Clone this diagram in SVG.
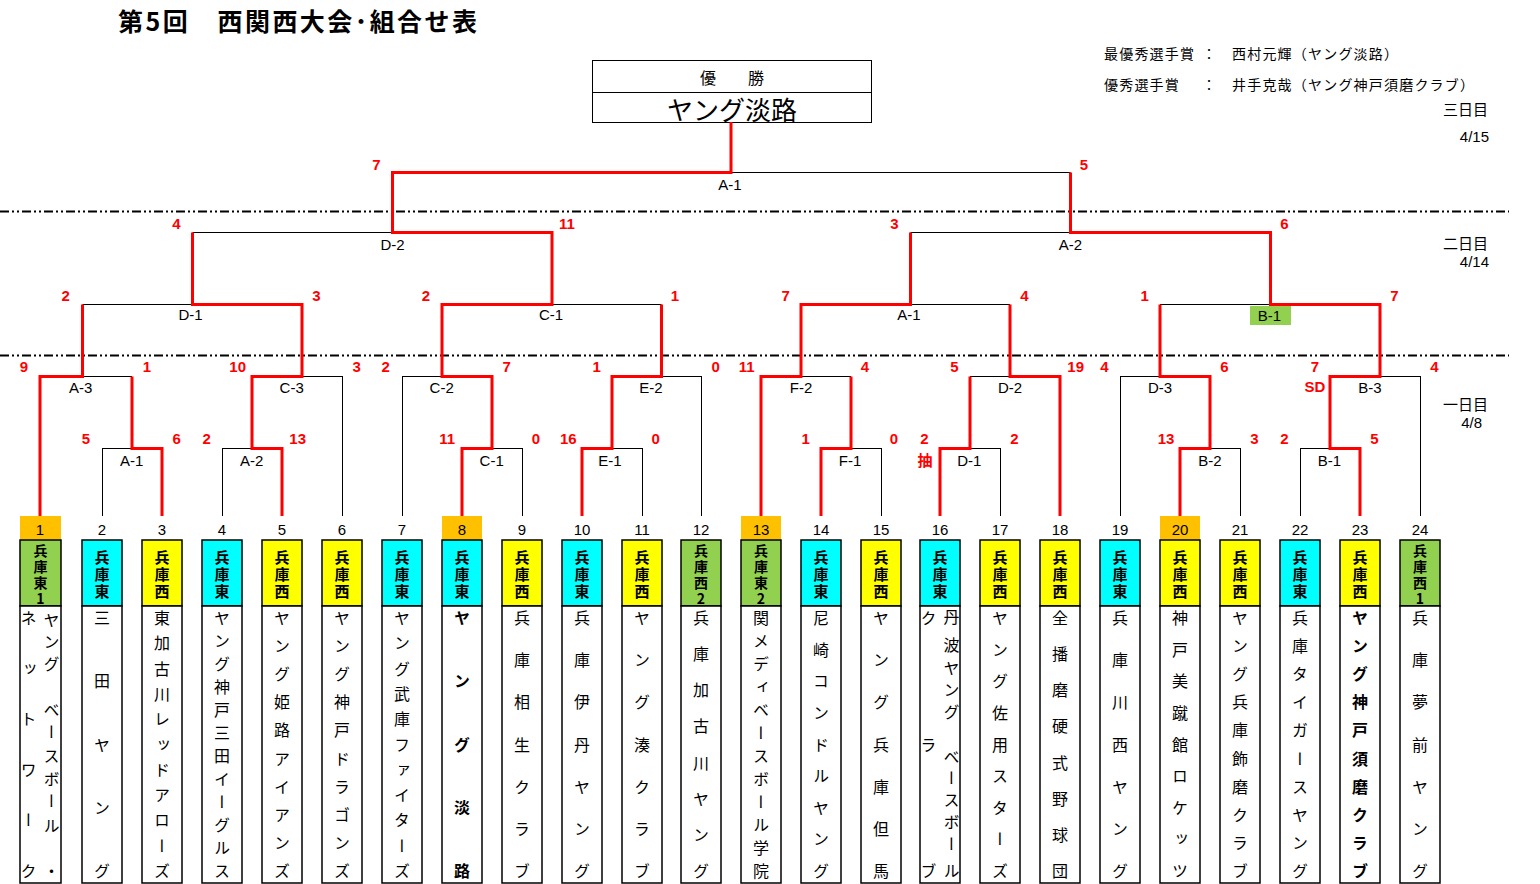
<svg xmlns="http://www.w3.org/2000/svg" width="1540" height="884" viewBox="0 0 1540 884">
<style>
.bk{stroke:#000;stroke-width:1;fill:none}
.rd{stroke:#FF0000;stroke-width:3;fill:none;stroke-linejoin:miter}
.dash{stroke:#000;stroke-width:2;stroke-dasharray:9 3 2 3 2 3;fill:none}
.lbl{font-family:"Liberation Sans","Noto Sans CJK JP",sans-serif;font-size:15px;fill:#000;text-anchor:middle;dominant-baseline:central}
.sc{font-family:"Liberation Sans","Noto Sans CJK JP",sans-serif;font-size:15px;font-weight:bold;fill:#FF0000;text-anchor:middle;dominant-baseline:central}
.num{font-family:"Liberation Sans",sans-serif;font-size:15px;fill:#000;text-anchor:middle;dominant-baseline:central}
.pref{font-family:"Noto Sans CJK JP",sans-serif;font-size:15px;font-weight:bold;fill:#000;text-anchor:middle;dominant-baseline:central}
.pref4{font-family:"Noto Sans CJK JP",sans-serif;font-size:14px;font-weight:bold;fill:#000;text-anchor:middle;dominant-baseline:central}
.nm{font-family:"Noto Sans CJK JP",sans-serif;font-size:16px;fill:#000;writing-mode:vertical-rl;text-anchor:middle}
.nmb{font-family:"Noto Sans CJK JP",sans-serif;font-size:16px;font-weight:bold;fill:#000;writing-mode:vertical-rl;text-anchor:middle}
.jp{font-family:"Noto Sans CJK JP",sans-serif;fill:#000;dominant-baseline:central}
.cy{fill:#00FFFF;stroke:#000;stroke-width:1.5}
.ye{fill:#FFFF00;stroke:#000;stroke-width:1.5}
.gr{fill:#92D050;stroke:#000;stroke-width:1.5}
.wh{fill:#FFFFFF;stroke:#000;stroke-width:1.5}
.or{fill:#FFC000}
</style>
<rect x="0" y="0" width="1540" height="884" fill="#FFFFFF"/>

<g id="title">
<text class="jp" x="118" y="20" font-size="25" font-weight="bold" textLength="359" lengthAdjust="spacing">第5回　西関西大会･組合せ表</text>
</g>

<g id="awards" class="jp" font-size="14" letter-spacing="1.2">
<text x="1104" y="53">最優秀選手賞</text>
<text x="1202" y="53">：</text>
<text x="1232" y="53">西村元輝（ヤング淡路）</text>
<text x="1104" y="84">優秀選手賞</text>
<text x="1202" y="84">：</text>
<text x="1232" y="84">井手克哉（ヤング神戸須磨クラブ）</text>
</g>

<g id="days">
<text class="jp" x="1488" y="108" font-size="15" text-anchor="end">三日目</text>
<text class="num" x="1489" y="136" style="text-anchor:end">4/15</text>
<text class="jp" x="1488" y="242" font-size="15" text-anchor="end">二日目</text>
<text class="num" x="1489" y="261" style="text-anchor:end">4/14</text>
<text class="jp" x="1488" y="403" font-size="15" text-anchor="end">一日目</text>
<text class="num" x="1482" y="422" style="text-anchor:end">4/8</text>
</g>

<g id="day-lines">
<line class="dash" x1="0" y1="211.5" x2="1509" y2="211.5"/>
<line class="dash" x1="0" y1="355.5" x2="1509" y2="355.5"/>
</g>

<g id="champion">
<rect x="592.5" y="60.5" width="279" height="62" fill="#FFFFFF" stroke="#000" stroke-width="1"/>
<line x1="592.5" y1="92.5" x2="871.5" y2="92.5" stroke="#000" stroke-width="1"/>
<text class="jp" x="732" y="77" font-size="16" text-anchor="middle">優　　勝</text>
<text class="jp" x="732" y="108" font-size="26" text-anchor="middle">ヤング淡路</text>
</g>

<g id="connectors">
<path class="bk" d="M102,448.5H162 M222,448.5H282 M462,448.5H522 M582,448.5H642 M821,448.5H881 M940,448.5H1000 M1180,448.5H1240 M1300,448.5H1360"/>
<path class="bk" d="M40,376.5H132 M252,376.5H342 M402,376.5H492 M612,376.5H701 M761,376.5H851 M970,376.5H1060 M1120,376.5H1210 M1330,376.5H1420"/>
<path class="bk" d="M82.5,304.5H302 M442,304.5H661.5 M801,304.5H1010 M1160,304.5H1380"/>
<path class="bk" d="M192.5,232.5H552 M910.5,232.5H1270.5"/>
<path class="bk" d="M392.5,172.5H1070.5"/>
<path class="bk" d="M102.5,516V448 M222.5,516V448 M342.5,516V376 M402.5,516V376 M522.5,516V448 M642.5,516V448 M701.5,516V376 M881.5,516V448 M1000.5,516V448 M1120.5,516V376 M1240.5,516V448 M1300.5,516V448 M1420.5,516V376"/>
<polyline class="rd" points="40,516 40,376.5 82.5,376.5 82.5,304.5"/>
<polyline class="rd" points="162,516 162,448.5 132,448.5 132,376.5"/>
<polyline class="rd" points="282,516 282,448.5 252,448.5 252,376.5 302,376.5 302,304.5 192.5,304.5 192.5,232.5"/>
<polyline class="rd" points="462,516 462,448.5 492,448.5 492,376.5 442,376.5 442,304.5 552,304.5 552,232.5 392.5,232.5 392.5,172.5 731,172.5 731,122"/>
<polyline class="rd" points="582,516 582,448.5 612,448.5 612,376.5 661.5,376.5 661.5,304.5"/>
<polyline class="rd" points="761,516 761,376.5 801,376.5 801,304.5 910.5,304.5 910.5,232.5"/>
<polyline class="rd" points="821,516 821,448.5 851,448.5 851,376.5"/>
<polyline class="rd" points="940,516 940,448.5 970,448.5 970,376.5"/>
<polyline class="rd" points="1060,516 1060,376.5 1010,376.5 1010,304.5"/>
<polyline class="rd" points="1180,516 1180,448.5 1210,448.5 1210,376.5 1160,376.5 1160,304.5"/>
<polyline class="rd" points="1360,516 1360,448.5 1330,448.5 1330,376.5 1380,376.5 1380,304.5 1270.5,304.5 1270.5,232.5 1070.5,232.5 1070.5,172.5"/>
</g>

<g id="match-labels">
<text class="lbl" x="131.7" y="460">A-1</text>
<text class="lbl" x="251.7" y="460">A-2</text>
<text class="lbl" x="491.7" y="460">C-1</text>
<text class="lbl" x="610" y="460">E-1</text>
<text class="lbl" x="850" y="460">F-1</text>
<text class="lbl" x="969.3" y="460">D-1</text>
<text class="lbl" x="1210" y="460">B-2</text>
<text class="lbl" x="1329.3" y="460">B-1</text>
<text class="lbl" x="80.7" y="387.5">A-3</text>
<text class="lbl" x="291.7" y="387.5">C-3</text>
<text class="lbl" x="441.7" y="387.5">C-2</text>
<text class="lbl" x="651" y="387.5">E-2</text>
<text class="lbl" x="801" y="387.5">F-2</text>
<text class="lbl" x="1010" y="387.5">D-2</text>
<text class="lbl" x="1160" y="387.5">D-3</text>
<text class="lbl" x="1370" y="387.5">B-3</text>
<text class="lbl" x="190.5" y="314.7">D-1</text>
<text class="lbl" x="551" y="314.7">C-1</text>
<text class="lbl" x="909" y="314.7">A-1</text>
<rect x="1250" y="306" width="41" height="19" fill="#92D050"/>
<text class="lbl" x="1269.5" y="315.5">B-1</text>
<text class="lbl" x="392.6" y="244">D-2</text>
<text class="lbl" x="1070.3" y="244">A-2</text>
<text class="lbl" x="730" y="184">A-1</text>
</g>

<g id="scores">
<text class="sc" x="86" y="438.5">5</text>
<text class="sc" x="176.7" y="438.5">6</text>
<text class="sc" x="206.7" y="438.5">2</text>
<text class="sc" x="297.7" y="438.5">13</text>
<text class="sc" x="447.3" y="438.5">11</text>
<text class="sc" x="536" y="438.5">0</text>
<text class="sc" x="568.3" y="438.5">16</text>
<text class="sc" x="655.7" y="438.5">0</text>
<text class="sc" x="805.7" y="438.5">1</text>
<text class="sc" x="894" y="438.5">0</text>
<text class="sc" x="924.3" y="438.5">2</text>
<text class="sc" x="1014.3" y="438.5">2</text>
<text class="sc" x="1166" y="438.5">13</text>
<text class="sc" x="1254.3" y="438.5">3</text>
<text class="sc" x="1284.3" y="438.5">2</text>
<text class="sc" x="1374.3" y="438.5">5</text>
<text class="sc" x="925" y="460" font-family="Noto Sans CJK JP, sans-serif" font-size="16">抽</text>
<text class="sc" x="24" y="366.7">9</text>
<text class="sc" x="147" y="366.7">1</text>
<text class="sc" x="237.7" y="366.7">10</text>
<text class="sc" x="356.7" y="366.7">3</text>
<text class="sc" x="385.7" y="366.7">2</text>
<text class="sc" x="506.7" y="366.7">7</text>
<text class="sc" x="596.7" y="366.7">1</text>
<text class="sc" x="715.7" y="366.7">0</text>
<text class="sc" x="746.7" y="366.7">11</text>
<text class="sc" x="865" y="366.7">4</text>
<text class="sc" x="954.3" y="366.7">5</text>
<text class="sc" x="1075.7" y="366.7">19</text>
<text class="sc" x="1104.3" y="366.7">4</text>
<text class="sc" x="1224.3" y="366.7">6</text>
<text class="sc" x="1315" y="366.7">7</text>
<text class="sc" x="1315" y="386.7">SD</text>
<text class="sc" x="1434.3" y="366.7">4</text>
<text class="sc" x="65.7" y="295">2</text>
<text class="sc" x="316.3" y="295">3</text>
<text class="sc" x="426" y="295">2</text>
<text class="sc" x="675" y="295">1</text>
<text class="sc" x="785.7" y="295">7</text>
<text class="sc" x="1024.4" y="295">4</text>
<text class="sc" x="1144.7" y="295">1</text>
<text class="sc" x="1394.5" y="295">7</text>
<text class="sc" x="176.3" y="223">4</text>
<text class="sc" x="567" y="223">11</text>
<text class="sc" x="894.5" y="223">3</text>
<text class="sc" x="1284.3" y="223">6</text>
<text class="sc" x="376.5" y="164.3">7</text>
<text class="sc" x="1084" y="164.3">5</text>
</g>

<g id="team-1">
<rect class="or" x="20" y="516" width="41" height="24"/>
<text class="num" x="40" y="529">1</text>
<rect class="gr" x="20" y="540" width="41" height="66"/>
<text class="pref4" x="40.5 40.5 40.5 40.5" y="550 566 582 598">兵庫東1</text>
<rect class="wh" x="20" y="606" width="41" height="277"/>
<text class="nm" x="51.5" y="620 642 664 687 710 732 756 779 801 826 871">ヤング ベースボール・</text>
<text class="nm" x="28.5" y="618 668.6 719.2 769.8 820.4 871">ネットワーク</text>
</g>
<g id="team-2">
<text class="num" x="102" y="529">2</text>
<rect class="cy" x="82" y="540" width="40" height="66"/>
<text class="pref" x="102 102 102" y="556 573 590">兵庫東</text>
<rect class="wh" x="82" y="606" width="40" height="277"/>
<text class="nm" x="102" y="618 681.25 744.5 807.75 871">三田ヤング</text>
</g>
<g id="team-3">
<text class="num" x="162" y="529">3</text>
<rect class="ye" x="142" y="540" width="40" height="66"/>
<text class="pref" x="162 162 162" y="556 573 590">兵庫西</text>
<rect class="wh" x="142" y="606" width="40" height="277"/>
<text class="nm" x="162" y="618 643.3 668.6 693.9 719.2 744.5 769.8 795.1 820.4 845.7 871">東加古川レッドアローズ</text>
</g>
<g id="team-4">
<text class="num" x="222" y="529">4</text>
<rect class="cy" x="202" y="540" width="40" height="66"/>
<text class="pref" x="222 222 222" y="556 573 590">兵庫東</text>
<rect class="wh" x="202" y="606" width="40" height="277"/>
<text class="nm" x="222" y="618 641 664 687 710 733 756 779 802 825 848 871">ヤング神戸三田イーグルス</text>
</g>
<g id="team-5">
<text class="num" x="282" y="529">5</text>
<rect class="ye" x="262" y="540" width="40" height="66"/>
<text class="pref" x="282 282 282" y="556 573 590">兵庫西</text>
<rect class="wh" x="262" y="606" width="40" height="277"/>
<text class="nm" x="282" y="618 646.1 674.2 702.3 730.4 758.6 786.7 814.8 842.9 871">ヤング姫路アイアンズ</text>
</g>
<g id="team-6">
<text class="num" x="342" y="529">6</text>
<rect class="ye" x="322" y="540" width="40" height="66"/>
<text class="pref" x="342 342 342" y="556 573 590">兵庫西</text>
<rect class="wh" x="322" y="606" width="40" height="277"/>
<text class="nm" x="342" y="618 646.1 674.2 702.3 730.4 758.6 786.7 814.8 842.9 871">ヤング神戸ドラゴンズ</text>
</g>
<g id="team-7">
<text class="num" x="402" y="529">7</text>
<rect class="cy" x="382" y="540" width="40" height="66"/>
<text class="pref" x="402 402 402" y="556 573 590">兵庫東</text>
<rect class="wh" x="382" y="606" width="40" height="277"/>
<text class="nm" x="402" y="618 643.3 668.6 693.9 719.2 744.5 769.8 795.1 820.4 845.7 871">ヤング武庫ファイターズ</text>
</g>
<g id="team-8">
<rect class="or" x="442" y="516" width="40" height="24"/>
<text class="num" x="462" y="529">8</text>
<rect class="cy" x="442" y="540" width="40" height="66"/>
<text class="pref" x="462 462 462" y="556 573 590">兵庫東</text>
<rect class="wh" x="442" y="606" width="40" height="277"/>
<text class="nmb" x="462" y="618 681.25 744.5 807.75 871">ヤング淡路</text>
</g>
<g id="team-9">
<text class="num" x="522" y="529">9</text>
<rect class="ye" x="502" y="540" width="40" height="66"/>
<text class="pref" x="522 522 522" y="556 573 590">兵庫西</text>
<rect class="wh" x="502" y="606" width="40" height="277"/>
<text class="nm" x="522" y="618 660.2 702.3 744.5 786.7 828.8 871">兵庫相生クラブ</text>
</g>
<g id="team-10">
<text class="num" x="582" y="529">10</text>
<rect class="cy" x="562" y="540" width="40" height="66"/>
<text class="pref" x="582 582 582" y="556 573 590">兵庫東</text>
<rect class="wh" x="562" y="606" width="40" height="277"/>
<text class="nm" x="582" y="618 660.2 702.3 744.5 786.7 828.8 871">兵庫伊丹ヤング</text>
</g>
<g id="team-11">
<text class="num" x="642" y="529">11</text>
<rect class="ye" x="622" y="540" width="40" height="66"/>
<text class="pref" x="642 642 642" y="556 573 590">兵庫西</text>
<rect class="wh" x="622" y="606" width="40" height="277"/>
<text class="nm" x="642" y="618 660.2 702.3 744.5 786.7 828.8 871">ヤング湊クラブ</text>
</g>
<g id="team-12">
<text class="num" x="701" y="529">12</text>
<rect class="gr" x="681" y="540" width="40" height="66"/>
<text class="pref4" x="701 701 701 701" y="550 566 582 598">兵庫西2</text>
<rect class="wh" x="681" y="606" width="40" height="277"/>
<text class="nm" x="701" y="618 654.1 690.3 726.4 762.6 798.7 834.9 871">兵庫加古川ヤング</text>
</g>
<g id="team-13">
<rect class="or" x="741" y="516" width="40" height="24"/>
<text class="num" x="761" y="529">13</text>
<rect class="gr" x="741" y="540" width="40" height="66"/>
<text class="pref4" x="761 761 761 761" y="550 566 582 598">兵庫東2</text>
<rect class="wh" x="741" y="606" width="40" height="277"/>
<text class="nm" x="761" y="618 641 664 687 710 733 756 779 802 825 848 871">関メディベースボール学院</text>
</g>
<g id="team-14">
<text class="num" x="821" y="529">14</text>
<rect class="cy" x="801" y="540" width="40" height="66"/>
<text class="pref" x="821 821 821" y="556 573 590">兵庫東</text>
<rect class="wh" x="801" y="606" width="40" height="277"/>
<text class="nm" x="821" y="618 649.6 681.3 712.9 744.5 776.1 807.8 839.4 871">尼崎コンドルヤング</text>
</g>
<g id="team-15">
<text class="num" x="881" y="529">15</text>
<rect class="ye" x="861" y="540" width="40" height="66"/>
<text class="pref" x="881 881 881" y="556 573 590">兵庫西</text>
<rect class="wh" x="861" y="606" width="40" height="277"/>
<text class="nm" x="881" y="618 660.2 702.3 744.5 786.7 828.8 871">ヤング兵庫但馬</text>
</g>
<g id="team-16">
<text class="num" x="940" y="529">16</text>
<rect class="cy" x="920" y="540" width="40" height="66"/>
<text class="pref" x="940 940 940" y="556 573 590">兵庫東</text>
<rect class="wh" x="920" y="606" width="40" height="277"/>
<text class="nm" x="951.5" y="617 645 668 690 712 735 757 778 800 822 844 871">丹波ヤング ベースボール</text>
<text class="nm" x="928.5" y="618 744.5 871">クラブ</text>
</g>
<g id="team-17">
<text class="num" x="1000" y="529">17</text>
<rect class="ye" x="980" y="540" width="40" height="66"/>
<text class="pref" x="1000 1000 1000" y="556 573 590">兵庫西</text>
<rect class="wh" x="980" y="606" width="40" height="277"/>
<text class="nm" x="1000" y="618 649.6 681.3 712.9 744.5 776.1 807.8 839.4 871">ヤング佐用スターズ</text>
</g>
<g id="team-18">
<text class="num" x="1060" y="529">18</text>
<rect class="ye" x="1040" y="540" width="40" height="66"/>
<text class="pref" x="1060 1060 1060" y="556 573 590">兵庫西</text>
<rect class="wh" x="1040" y="606" width="40" height="277"/>
<text class="nm" x="1060" y="618 654.1 690.3 726.4 762.6 798.7 834.9 871">全播磨硬式野球団</text>
</g>
<g id="team-19">
<text class="num" x="1120" y="529">19</text>
<rect class="cy" x="1100" y="540" width="40" height="66"/>
<text class="pref" x="1120 1120 1120" y="556 573 590">兵庫東</text>
<rect class="wh" x="1100" y="606" width="40" height="277"/>
<text class="nm" x="1120" y="618 660.2 702.3 744.5 786.7 828.8 871">兵庫川西ヤング</text>
</g>
<g id="team-20">
<rect class="or" x="1160" y="516" width="40" height="24"/>
<text class="num" x="1180" y="529">20</text>
<rect class="ye" x="1160" y="540" width="40" height="66"/>
<text class="pref" x="1180 1180 1180" y="556 573 590">兵庫西</text>
<rect class="wh" x="1160" y="606" width="40" height="277"/>
<text class="nm" x="1180" y="618 649.6 681.3 712.9 744.5 776.1 807.8 839.4 871">神戸美蹴館ロケッツ</text>
</g>
<g id="team-21">
<text class="num" x="1240" y="529">21</text>
<rect class="ye" x="1220" y="540" width="40" height="66"/>
<text class="pref" x="1240 1240 1240" y="556 573 590">兵庫西</text>
<rect class="wh" x="1220" y="606" width="40" height="277"/>
<text class="nm" x="1240" y="618 646.1 674.2 702.3 730.4 758.6 786.7 814.8 842.9 871">ヤング兵庫飾磨クラブ</text>
</g>
<g id="team-22">
<text class="num" x="1300" y="529">22</text>
<rect class="cy" x="1280" y="540" width="40" height="66"/>
<text class="pref" x="1300 1300 1300" y="556 573 590">兵庫東</text>
<rect class="wh" x="1280" y="606" width="40" height="277"/>
<text class="nm" x="1300" y="618 646.1 674.2 702.3 730.4 758.6 786.7 814.8 842.9 871">兵庫タイガースヤング</text>
</g>
<g id="team-23">
<text class="num" x="1360" y="529">23</text>
<rect class="ye" x="1340" y="540" width="40" height="66"/>
<text class="pref" x="1360 1360 1360" y="556 573 590">兵庫西</text>
<rect class="wh" x="1340" y="606" width="40" height="277"/>
<text class="nmb" x="1360" y="618 646.1 674.2 702.3 730.4 758.6 786.7 814.8 842.9 871">ヤング神戸須磨クラブ</text>
</g>
<g id="team-24">
<text class="num" x="1420" y="529">24</text>
<rect class="gr" x="1400" y="540" width="40" height="66"/>
<text class="pref4" x="1420 1420 1420 1420" y="550 566 582 598">兵庫西1</text>
<rect class="wh" x="1400" y="606" width="40" height="277"/>
<text class="nm" x="1420" y="618 660.2 702.3 744.5 786.7 828.8 871">兵庫夢前ヤング</text>
</g>
</svg>
